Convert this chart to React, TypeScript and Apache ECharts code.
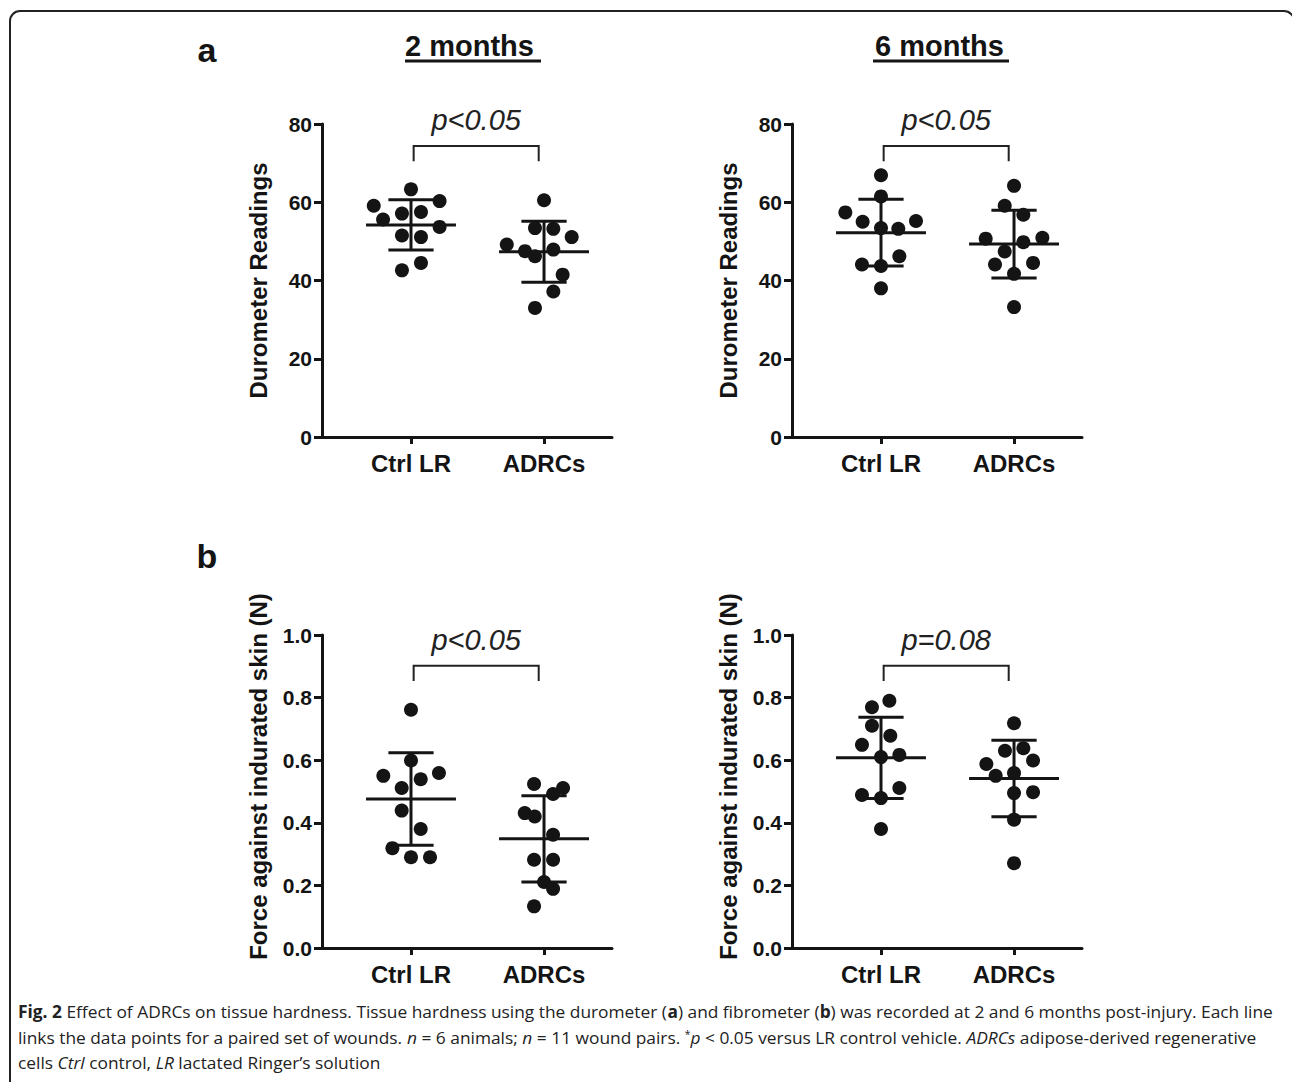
import React, { useEffect, useRef } from 'react';
import * as echarts from 'echarts';

// ---------- data ----------
const categories = ['Ctrl LR', 'ADRCs'];
const categoryPos = [1, 2];

// a: durometer, 2 months
const dur2Ctrl = [63.3, 59.1, 60.3, 57.1, 57.5, 55.6, 53.7, 51.5, 51.1, 42.6, 44.5];
const dur2CtrlJitter = [0, -0.28, 0.215, -0.068, 0.075, -0.21, 0.215, -0.068, 0.075, -0.068, 0.075];
const dur2Adrc = [60.5, 53.4, 53.2, 51.1, 49.2, 47.5, 47.9, 46.2, 41.5, 37.2, 33.0];
const dur2AdrcJitter = [0, -0.068, 0.07, 0.208, -0.28, -0.143, 0.07, -0.068, 0.14, 0.07, -0.068];

// a: durometer, 6 months
const dur6Ctrl = [66.9, 61.5, 57.4, 55.0, 55.2, 53.4, 53.2, 46.2, 44.1, 43.7, 38.0];
const dur6CtrlJitter = [0, 0, -0.268, -0.138, 0.263, 0, 0.13, 0.138, -0.143, 0, 0];
const dur6Adrc = [64.2, 59.1, 56.8, 50.7, 50.9, 49.8, 47.4, 44.1, 44.5, 41.7, 33.2];
const dur6AdrcJitter = [0, -0.07, 0.07, -0.213, 0.213, 0.07, -0.07, -0.143, 0.143, 0, 0];

// b: fibrometer, 2 months
const fib2Ctrl = [0.761, 0.599, 0.55, 0.559, 0.539, 0.511, 0.439, 0.38, 0.319, 0.29, 0.29];
const fib2CtrlJitter = [0, 0, -0.208, 0.21, 0.073, -0.07, -0.07, 0.073, -0.14, 0, 0.143];
const fib2Adrc = [0.524, 0.511, 0.492, 0.431, 0.42, 0.362, 0.282, 0.282, 0.211, 0.189, 0.133];
const fib2AdrcJitter = [-0.075, 0.143, 0.068, -0.145, -0.07, 0.068, -0.075, 0.068, 0, 0.068, -0.075];

// b: fibrometer, 6 months
const fib6Ctrl = [0.79, 0.769, 0.71, 0.678, 0.649, 0.61, 0.617, 0.511, 0.489, 0.479, 0.38];
const fib6CtrlJitter = [0.063, -0.068, -0.068, 0.07, -0.143, 0, 0.138, 0.138, -0.143, 0, 0];
const fib6Adrc = [0.718, 0.63, 0.638, 0.588, 0.599, 0.559, 0.55, 0.495, 0.498, 0.41, 0.271];
const fib6AdrcJitter = [0, -0.068, 0.07, -0.208, 0.143, 0, -0.138, 0, 0.143, 0, 0];

const pLabels = ['p<0.05', 'p<0.05', 'p<0.05', 'p=0.08'];
const yMax = [80, 80, 1, 1];
const yInterval = [20, 20, 0.2, 0.2];
const yNames = ['Durometer Readings', 'Durometer Readings', 'Force against indurated skin (N)', 'Force against indurated skin (N)'];
// bracket: [top, leg bottom, label centre] in data units
const brackets = [
  [74.4, 70.5, 81],
  [74.4, 70.5, 81],
  [0.902, 0.853, 0.984],
  [0.902, 0.853, 0.984],
];
const bracketEnds = [1.02, 1.96];

const panels = [
  { ctrl: dur2Ctrl, ctrlJ: dur2CtrlJitter, adrc: dur2Adrc, adrcJ: dur2AdrcJitter },
  { ctrl: dur6Ctrl, ctrlJ: dur6CtrlJitter, adrc: dur6Adrc, adrcJ: dur6AdrcJitter },
  { ctrl: fib2Ctrl, ctrlJ: fib2CtrlJitter, adrc: fib2Adrc, adrcJ: fib2AdrcJitter },
  { ctrl: fib6Ctrl, ctrlJ: fib6CtrlJitter, adrc: fib6Adrc, adrcJ: fib6AdrcJitter },
];

// ---------- helpers ----------
const FONT = 'Liberation Sans';
const INK = '#141414';

function meanSd(v: number[]) {
  const m = v.reduce((a, b) => a + b, 0) / v.length;
  const s = Math.sqrt(v.reduce((a, b) => a + (b - m) * (b - m), 0) / (v.length - 1));
  return [m, s];
}

const gridPos = [
  { left: 322, top: 124 },
  { left: 792, top: 124 },
  { left: 322, top: 635 },
  { left: 792, top: 635 },
];
const namePad = [
  [0, 0, 0, 0],
  [0, 0, 0, 0],
  [0, 0, 0, 30],
  [0, 0, 0, 30],
];

function buildOption() {
  const grid: any[] = [];
  const xAxis: any[] = [];
  const yAxis: any[] = [];
  const series: any[] = [];

  panels.forEach((p, i) => {
    grid.push({ left: gridPos[i].left, top: gridPos[i].top, width: 290, height: 313, containLabel: false });
    xAxis.push({
      type: 'value',
      gridIndex: i,
      min: 0.331,
      max: 2.511,
      splitLine: { show: false },
      axisLine: { show: true, onZero: false, lineStyle: { color: INK, width: 3 } },
      axisTick: { show: true, customValues: categoryPos, length: 7, lineStyle: { color: INK, width: 3 } },
      axisLabel: {
        show: true,
        customValues: categoryPos,
        formatter: (v: number) => categories[categoryPos.indexOf(Math.round(v))] ?? '',
        color: INK,
        fontFamily: FONT,
        fontWeight: 'bold',
        fontSize: 24,
        margin: 14,
      },
    });
    yAxis.push({
      type: 'value',
      gridIndex: i,
      min: 0,
      max: yMax[i],
      interval: yInterval[i],
      name: yNames[i],
      nameLocation: 'middle',
      nameGap: 52,
      nameRotate: 90,
      nameTextStyle: { color: INK, fontFamily: FONT, fontWeight: 'bold', fontSize: 24, padding: namePad[i] },
      splitLine: { show: false },
      axisLine: { show: true, onZero: false, lineStyle: { color: INK, width: 3 } },
      axisTick: { show: true, length: 8, lineStyle: { color: INK, width: 3 } },
      axisLabel: {
        color: INK,
        fontFamily: FONT,
        fontWeight: 'bold',
        fontSize: 21,
        margin: 10,
        formatter: (v: number) => (yMax[i] === 1 ? v.toFixed(1) : String(v)),
      },
    });

    const pts: number[][] = [];
    p.ctrl.forEach((v, k) => pts.push([categoryPos[0] + p.ctrlJ[k], v]));
    p.adrc.forEach((v, k) => pts.push([categoryPos[1] + p.adrcJ[k], v]));

    const [mc, sc] = meanSd(p.ctrl);
    const [ma, sa] = meanSd(p.adrc);

    series.push({
      type: 'custom',
      xAxisIndex: i,
      yAxisIndex: i,
      data: [
        [categoryPos[0], mc, sc],
        [categoryPos[1], ma, sa],
      ],
      clip: false,
      z: 3,
      renderItem: (params: any, api: any) => {
        const x = api.value(0);
        const m = api.value(1);
        const s = api.value(2);
        const c = api.coord([x, m]);
        const top = api.coord([x, m + s]);
        const bot = api.coord([x, m - s]);
        const wMean = api.size([0.338, 0])[0];
        const wCap = api.size([0.17, 0])[0];
        const st = { stroke: INK, lineWidth: 3 };
        return {
          type: 'group',
          children: [
            { type: 'line', shape: { x1: c[0] - wMean, y1: c[1], x2: c[0] + wMean, y2: c[1] }, style: st },
            { type: 'line', shape: { x1: c[0], y1: top[1], x2: c[0], y2: bot[1] }, style: st },
            { type: 'line', shape: { x1: c[0] - wCap, y1: top[1], x2: c[0] + wCap, y2: top[1] }, style: st },
            { type: 'line', shape: { x1: c[0] - wCap, y1: bot[1], x2: c[0] + wCap, y2: bot[1] }, style: st },
          ],
        };
      },
    });

    series.push({
      type: 'scatter',
      xAxisIndex: i,
      yAxisIndex: i,
      data: pts,
      symbol: 'circle',
      symbolSize: 14,
      itemStyle: { color: INK, opacity: 1 },
      z: 4,
    });

    series.push({
      type: 'custom',
      xAxisIndex: i,
      yAxisIndex: i,
      data: [[bracketEnds[0], bracketEnds[1], brackets[i][0], brackets[i][1], brackets[i][2]]],
      clip: false,
      z: 5,
      renderItem: (params: any, api: any) => {
        const l = api.coord([api.value(0), api.value(2)]);
        const r = api.coord([api.value(1), api.value(2)]);
        const lb = api.coord([api.value(0), api.value(3)]);
        const t = api.coord([(api.value(0) + api.value(1)) / 2, api.value(4)]);
        return {
          type: 'group',
          children: [
            {
              type: 'polyline',
              shape: { points: [[l[0], lb[1]], [l[0], l[1]], [r[0], r[1]], [r[0], lb[1]]] },
              style: { stroke: '#222', lineWidth: 2, fill: null },
            },
            {
              type: 'text',
              x: t[0],
              y: t[1],
              style: {
                text: pLabels[i],
                fontFamily: FONT,
                fontStyle: 'italic',
                fontSize: 29,
                fill: '#222',
                align: 'center',
                verticalAlign: 'middle',
              },
            },
          ],
        };
      },
    });
  });

  const capFont = 'Open Sans';
  const capRich = {
    b: { fontWeight: 'bold', fontFamily: capFont, fontSize: 17, fill: '#222' },
    i: { fontStyle: 'italic', fontFamily: capFont, fontSize: 17, fill: '#222' },
    sup: { fontFamily: capFont, fontSize: 10, fill: '#222', verticalAlign: 'top', padding: [0, 0, 8, 0] },
  };
  const capLines = [
    '{b|Fig. 2} Effect of ADRCs on tissue hardness. Tissue hardness using the durometer ({b|a}) and fibrometer ({b|b}) was recorded at 2 and 6 months post-injury. Each line',
    'links the data points for a paired set of wounds. {i|n} = 6 animals; {i|n} = 11 wound pairs. {sup|*}{i|p} < 0.05 versus LR control vehicle. {i|ADRCs} adipose-derived regenerative',
    'cells {i|Ctrl} control, {i|LR} lactated Ringer’s solution',
  ];
  const capY = [1012, 1038, 1063];

  const graphic: any[] = [
    {
      type: 'rect',
      shape: { x: 10, y: 11, width: 1284, height: 1200, r: 10 },
      style: { fill: 'none', stroke: '#222', lineWidth: 2 },
      silent: true,
    },
    { type: 'text', x: 207, y: 50, style: { text: 'a', fontFamily: FONT, fontWeight: 'bold', fontSize: 34, fill: INK, align: 'center', verticalAlign: 'middle' } },
    { type: 'text', x: 207, y: 556, style: { text: 'b', fontFamily: FONT, fontWeight: 'bold', fontSize: 34, fill: INK, align: 'center', verticalAlign: 'middle' } },
    { type: 'text', x: 405, y: 46, style: { text: '2 months', fontFamily: FONT, fontWeight: 'bold', fontSize: 29, fill: INK, align: 'left', verticalAlign: 'middle' } },
    { type: 'line', shape: { x1: 405, y1: 61, x2: 541, y2: 61 }, style: { stroke: INK, lineWidth: 3 } },
    { type: 'text', x: 875, y: 46, style: { text: '6 months', fontFamily: FONT, fontWeight: 'bold', fontSize: 29, fill: INK, align: 'left', verticalAlign: 'middle' } },
    { type: 'line', shape: { x1: 873, y1: 61, x2: 1009, y2: 61 }, style: { stroke: INK, lineWidth: 3 } },
  ];
  capLines.forEach((t, k) => {
    graphic.push({
      type: 'text',
      x: 18,
      y: capY[k],
      scaleX: 1.02,
      style: {
        text: t,
        rich: capRich,
        fontFamily: capFont,
        fontSize: 17,
        fill: '#222',
        align: 'left',
        verticalAlign: 'middle',
      },
    });
  });

  return {
    animation: false,
    backgroundColor: '#ffffff',
    textStyle: { fontFamily: FONT },
    grid,
    xAxis,
    yAxis,
    series,
    graphic,
  };
}

export default function App() {
  const ref = useRef<HTMLDivElement>(null);
  useEffect(() => {
    document.body.style.margin = '0';
    if (!ref.current) return;
    const chart = echarts.init(ref.current, undefined, { renderer: 'svg' });
    chart.setOption(buildOption() as any);
    return () => chart.dispose();
  }, []);
  return (
    <div
      ref={ref}
      style={{ position: 'absolute', left: 0, top: 0, width: 1292, height: 1082, background: '#fff' }}
    />
  );
}
